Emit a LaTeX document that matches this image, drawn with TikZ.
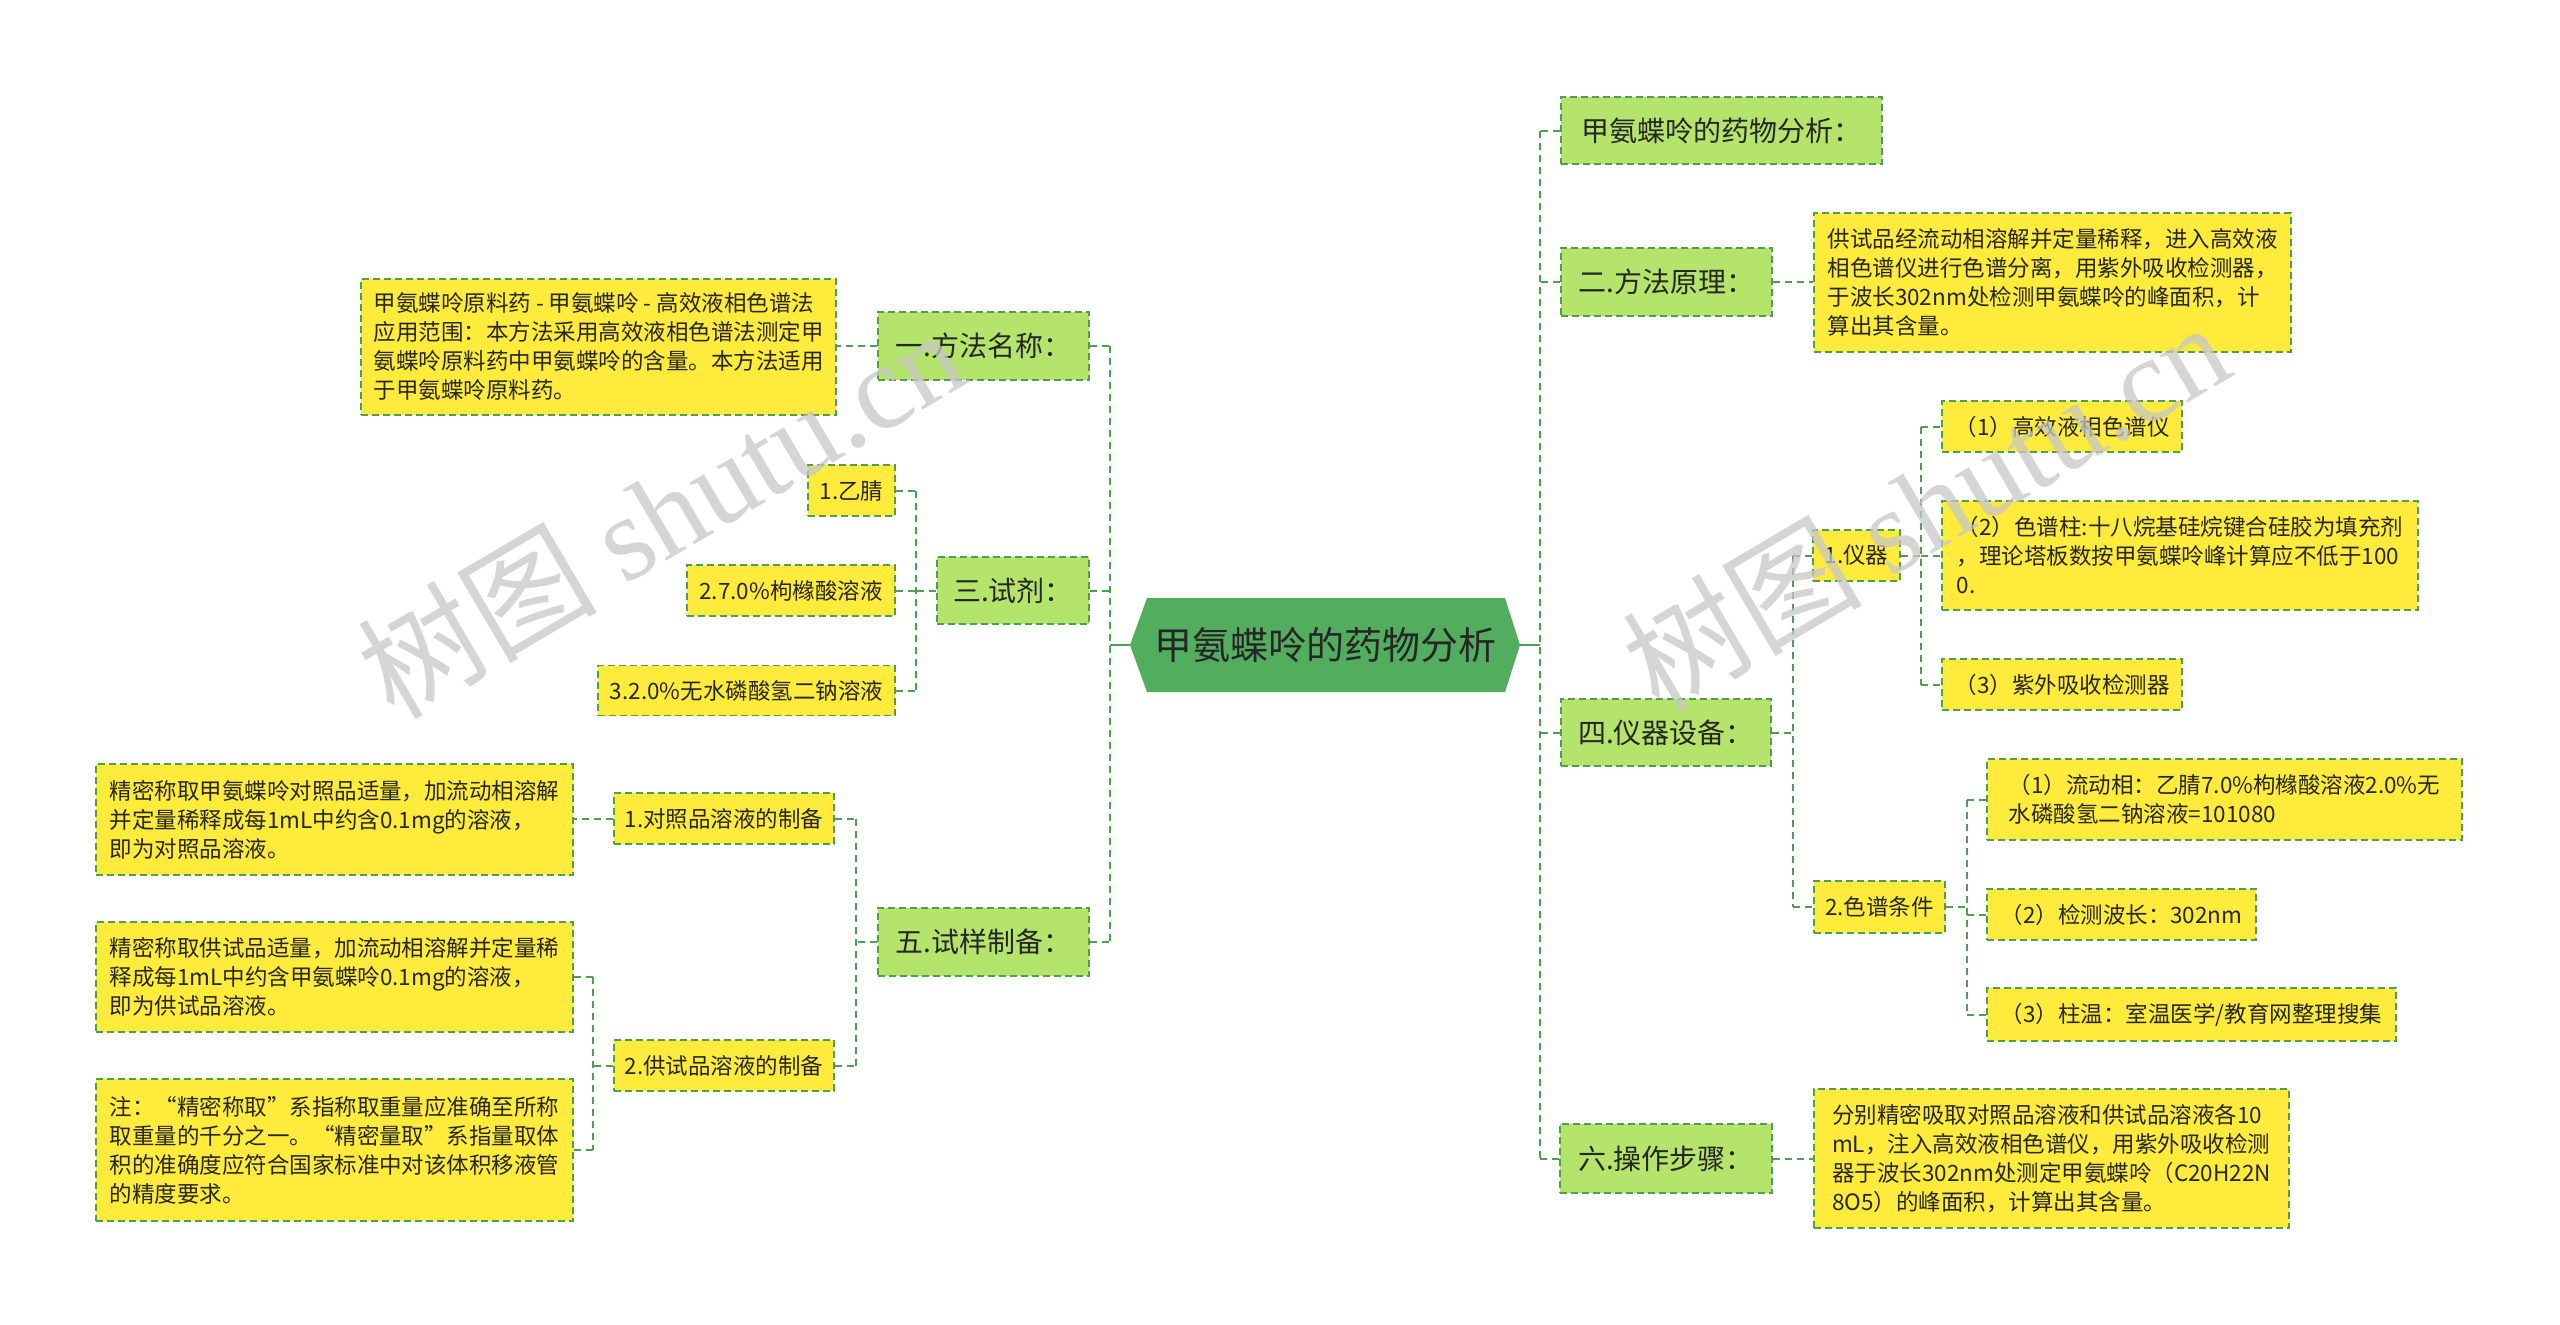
\documentclass[tikz,border=0pt]{standalone}
\usepackage{fontspec}
\setmainfont{Noto Sans CJK SC}
\newfontfamily\wmserif{Liberation Serif}
\usetikzlibrary{calc}
\definecolor{lvone}{HTML}{B5E46C}
\definecolor{leafy}{HTML}{FFEB3B}
\definecolor{bord}{HTML}{4E9F50}
\definecolor{rootg}{HTML}{52AE5E}
\definecolor{txt}{HTML}{262626}
\tikzset{
  box/.style={draw=bord, line width=1.8pt, dash pattern=on 7pt off 4pt, inner sep=0pt, text=txt, anchor=center},
  lvbox/.style={box, fill=lvone, font=\fontsize{28}{34}\selectfont},
  leaf/.style={box, fill=leafy, font=\fontsize{22.5}{29}\selectfont, align=left},
  conn/.style={draw=bord, line width=2pt, dash pattern=on 7pt off 5pt},
  rootline/.style={draw=bord, line width=2.8pt},
  wm/.style={text=black!22, opacity=0.75, font=\fontsize{120}{126}\selectfont},
  sz/.style 2 args={minimum width=#1pt, minimum height=#2pt},
}
\begin{document}
\begin{tikzpicture}[x=1pt,y=-1pt]
\useasboundingbox (0,0) rectangle (2560,1325);
\fill[white] (0,0) rectangle (2560,1325);

% root hexagon
\fill[rootg] (1130,645) -- (1147,598) -- (1505,598) -- (1520,645) -- (1505,692) -- (1147,692) -- cycle;
\node[minimum width=390pt, minimum height=94pt, inner sep=0pt, text=txt,
      font=\fontsize{38}{44}\selectfont] (root) at (1325,645) {甲氨蝶呤的药物分析};
\coordinate (trunkL) at (1110,645);
\coordinate (trunkR) at (1540,645);

% ---------- left side ----------
\node[lvbox, sz={211}{68}] (L1) at (983.5,346) {一.方法名称：};
\node[leaf, sz={475}{136}] (L1leaf) at (598.5,347) {甲氨蝶呤原料药 - 甲氨蝶呤 - 高效液相色谱法\\应用范围：本方法采用高效液相色谱法测定甲\\氨蝶呤原料药中甲氨蝶呤的含量。本方法适用\\于甲氨蝶呤原料药。};

\node[lvbox, sz={152}{67}] (L3) at (1013,590.5) {三.试剂：};
\node[leaf, sz={87}{51}] (L3a) at (851.5,490.5) {1.乙腈};
\node[leaf, sz={208}{51}] (L3b) at (791,590.5) {2.7.0\%枸橼酸溶液};
\node[leaf, sz={297}{50}] (L3c) at (746.5,690.5) {3.2.0\%无水磷酸氢二钠溶液};
\coordinate (b3) at (916,590);

\node[lvbox, sz={211}{68}] (L5) at (983.5,942) {五.试样制备：};
\node[leaf, sz={220}{51}] (L5a) at (724,818.5) {1.对照品溶液的制备};
\node[leaf, sz={220}{51}] (L5b) at (724,1065.5) {2.供试品溶液的制备};
\coordinate (b5) at (856,942);
\node[leaf, sz={477}{111}] (L5a1) at (334.5,819.5) {精密称取甲氨蝶呤对照品适量，加流动相溶解\\并定量稀释成每1mL中约含0.1mg的溶液，\\即为对照品溶液。};
\node[leaf, sz={477}{110}] (L5b1) at (334.5,977) {精密称取供试品适量，加流动相溶解并定量稀\\释成每1mL中约含甲氨蝶呤0.1mg的溶液，\\即为供试品溶液。};
\node[leaf, sz={477}{142}] (L5b2) at (334.5,1150) {注：“精密称取”系指称取重量应准确至所称\\取重量的千分之一。“精密量取”系指量取体\\积的准确度应符合国家标准中对该体积移液管\\的精度要求。};
\coordinate (b5b) at (593,1065);

% ---------- right side ----------
\node[lvbox, sz={321}{67}] (R0) at (1721.5,130.5) {甲氨蝶呤的药物分析：};
\node[lvbox, sz={211}{68}] (R2) at (1666.5,282) {二.方法原理：};
\node[leaf, sz={477}{139}] (R2leaf) at (2052.5,282.5) {供试品经流动相溶解并定量稀释，进入高效液\\相色谱仪进行色谱分离，用紫外吸收检测器，\\于波长302nm处检测甲氨蝶呤的峰面积，计\\算出其含量。};

\node[lvbox, sz={210}{67}] (R4) at (1666,732.5) {四.仪器设备：};
\coordinate (b4) at (1793,732);
\node[leaf, sz={87}{51}] (R4a) at (1856.5,555.5) {1.仪器};
\coordinate (b4a) at (1921,555);
\node[leaf, sz={240}{51}] (R4a1) at (2062,426.5) {（1）高效液相色谱仪};
\node[leaf, sz={476}{109}] (R4a2) at (2180,555.5) {（2）色谱柱:十八烷基硅烷键合硅胶为填充剂\\，理论塔板数按甲氨蝶呤峰计算应不低于100\\0.};
\node[leaf, sz={240}{51}] (R4a3) at (2062,684.5) {（3）紫外吸收检测器};
\node[leaf, sz={131}{52}] (R4b) at (1879.5,907) {2.色谱条件};
\coordinate (b4b) at (1967,907);
\node[leaf, sz={475}{81}] (R4b1) at (2224.5,799.5) {（1）流动相：乙腈7.0\%枸橼酸溶液2.0\%无\\水磷酸氢二钠溶液=101080};
\node[leaf, sz={269}{51}] (R4b2) at (2121.5,914.5) {（2）检测波长：302nm};
\node[leaf, sz={409}{53}] (R4b3) at (2191.5,1014.5) {（3）柱温：室温医学/教育网整理搜集};

\node[lvbox, sz={212}{69}] (R6) at (1666,1158.5) {六.操作步骤：};
\node[leaf, sz={475}{139}] (R6leaf) at (2051.5,1158.5) {分别精密吸取对照品溶液和供试品溶液各10\\mL，注入高效液相色谱仪，用紫外吸收检测\\器于波长302nm处测定甲氨蝶呤（C20H22N\\8O5）的峰面积，计算出其含量。};

% ---------- connectors ----------
\draw[rootline] (root.west) -- (trunkL);
\draw[rootline] (root.east) -- (trunkR);
% left trunk
\draw[conn] (L1.east -| trunkL) -- (L5.east -| trunkL);
\draw[conn] (L1.east) -- (L1.east -| trunkL);
\draw[conn] (L3.east) -- (L3.east -| trunkL);
\draw[conn] (L5.east) -- (L5.east -| trunkL);
% right trunk
\draw[conn] (R0.west -| trunkR) -- (R6.west -| trunkR);
\draw[conn] (R0.west) -- (R0.west -| trunkR);
\draw[conn] (R2.west) -- (R2.west -| trunkR);
\draw[conn] (R4.west) -- (R4.west -| trunkR);
\draw[conn] (R6.west) -- (R6.west -| trunkR);
% L1
\draw[conn] (L1.west) -- (L1.west -| L1leaf.east);
% L3
\draw[conn] (L3.west) -- (L3.west -| b3);
\draw[conn] (L3a.east -| b3) -- (L3c.east -| b3);
\draw[conn] (L3a.east) -- (L3a.east -| b3);
\draw[conn] (L3b.east) -- (L3b.east -| b3);
\draw[conn] (L3c.east) -- (L3c.east -| b3);
% L5
\draw[conn] (L5.west) -- (L5.west -| b5);
\draw[conn] (L5a.east -| b5) -- (L5b.east -| b5);
\draw[conn] (L5a.east) -- (L5a.east -| b5);
\draw[conn] (L5b.east) -- (L5b.east -| b5);
\draw[conn] (L5a.west) -- (L5a.west -| L5a1.east);
\draw[conn] (L5b.west) -- (L5b.west -| b5b);
\draw[conn] (L5b1.east -| b5b) -- (L5b2.east -| b5b);
\draw[conn] (L5b1.east) -- (L5b1.east -| b5b);
\draw[conn] (L5b2.east) -- (L5b2.east -| b5b);
% R2
\draw[conn] (R2.east) -- (R2.east -| R2leaf.west);
% R4
\draw[conn] (R4.east) -- (R4.east -| b4);
\draw[conn] (R4a.west -| b4) -- (R4b.west -| b4);
\draw[conn] (R4a.west -| b4) -- (R4a.west);
\draw[conn] (R4b.west -| b4) -- (R4b.west);
\draw[conn] (R4a.east) -- (R4a.east -| b4a);
\draw[conn] (R4a1.west -| b4a) -- (R4a3.west -| b4a);
\draw[conn] (R4a1.west -| b4a) -- (R4a1.west);
\draw[conn] (R4a2.west -| b4a) -- (R4a2.west);
\draw[conn] (R4a3.west -| b4a) -- (R4a3.west);
\draw[conn] (R4b.east) -- (R4b.east -| b4b);
\draw[conn] (R4b1.west -| b4b) -- (R4b3.west -| b4b);
\draw[conn] (R4b1.west -| b4b) -- (R4b1.west);
\draw[conn] (R4b2.west -| b4b) -- (R4b2.west);
\draw[conn] (R4b3.west -| b4b) -- (R4b3.west);
% R6
\draw[conn] (R6.east) -- (R6.east -| R6leaf.west);

% ---------- watermarks ----------
\node[wm, rotate=30.5] (wm1) at (660,512) {树图 {\wmserif shutu.cn}};
\node[wm, rotate=30.5] (wm2) at (1925,505) {树图 {\wmserif shutu.cn}};
\end{tikzpicture}
\end{document}
